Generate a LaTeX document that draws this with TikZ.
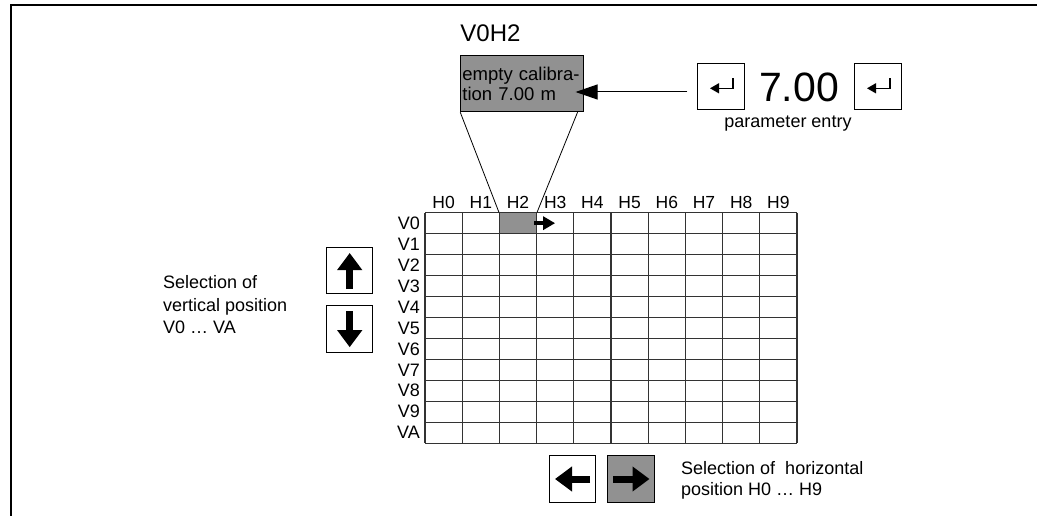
\documentclass[tikz,border=0pt]{standalone}
\usepackage{fontspec}
\setmainfont{Liberation Sans}
\usetikzlibrary{arrows.meta, positioning, calc}

\definecolor{panelgray}{gray}{0.57}
\definecolor{gridgray}{gray}{0.2}
\newcommand{\fsz}[2]{\fontsize{#1pt}{#2pt}\selectfont}
\newcommand{\cellw}{37.2}
\newcommand{\cellh}{20.95}
\newcommand{\gridx}{425}
\newcommand{\gridy}{212.7}

\begin{document}
\begin{tikzpicture}[
  x=1pt, y=-1pt,
  every node/.style={font=\fsz{18}{20.7}},
  frame/.style={line width=2pt},
  key/.style={
    draw, line width=1pt, minimum size=46.5pt, inner sep=0pt
  },
  graykey/.style={key, fill=panelgray},
  note/.style={
    draw, line width=1pt, fill=panelgray,
    minimum width=122.3pt, minimum height=56.7pt,
    text width=119pt, inner xsep=1.5pt, align=left,
    font=\fsz{18.5}{20}
  },
  cellbox/.style={
    draw=gridgray, line width=1pt, fill=panelgray,
    minimum width=\cellw pt, minimum height=\cellh pt, inner sep=0pt
  },
  gridline/.style={draw=gridgray, line width=1.3pt},
  hlabel/.style={anchor=base, inner sep=0pt, font=\fsz{17.5}{20}},
  vlabel/.style={anchor=east, inner sep=0pt, font=\fsz{18}{20}},
  thinline/.style={line width=0.8pt},
  pointer/.style={line width=1pt, -{Triangle[width=15pt,length=22pt]}},
  entersym/.style={line width=1.3pt, -{Triangle[width=10pt,length=9pt]}},
  bigarrow/.style={line width=7pt, -{Triangle[width=24pt,length=17pt]}},
  cellarrow/.style={line width=3.5pt, -{Triangle[width=13pt,length=12pt]}}
]
\useasboundingbox (0,0) rectangle (1037,516);

% frame
\draw[frame] (11,516) -- (11,5) -- (1037,5);

% matrix of positions
\node[cellbox] (sel) at ({\gridx+2.5*\cellw}, {\gridy+0.5*\cellh}) {};
\foreach \i in {0,...,10}
  \draw[gridline] ({\gridx+\i*\cellw}, \gridy) -- ++(0, {11*\cellh});
\foreach \j in {0,...,11}
  \draw[gridline] (\gridx, {\gridy+\j*\cellh}) -- ++({10*\cellw}, 0);
\foreach \c in {0,...,9}
  \node[hlabel] (h\c) at ({\gridx+(\c+0.5)*\cellw}, 208) {H\c};
\foreach \r [count=\k from 0] in {0,1,2,3,4,5,6,7,8,9,A}
  \node[vlabel] (v\r) at (420, {\gridy+(\k+0.5)*\cellh}) {V\r};
\draw[cellarrow] ([xshift=-3pt]sel.east) -- ([xshift=18pt]sel.east);

% display of the selected position
\node[note] (note) at (521.9, 83.4) {empty calibra-\\tion 7.00 m};
\node[anchor=base west, inner sep=0pt, font=\fsz{24}{28}] (pos)
  at ($(note.north west)+(0,-13.5)$) {V0H2};
\draw[thinline] (note.south west) -- (sel.north west);
\draw[thinline] ([xshift=-6pt]note.south east) -- (sel.north east);

% parameter entry
\node[key] (enter1) at (721, 86.7) {};
\node[key] (enter2) at (878, 86.7) {};
\node[anchor=base, inner sep=0pt, font=\fsz{41}{45}] (val) at (799, 101.7) {7.00};
\node[anchor=base, inner sep=0pt] (entry) at (788, 128) {parameter entry};
\draw[entersym] ($(enter1.center)+(12,-8.5)$) |- ($(enter1.center)+(-11,1.6)$);
\draw[entersym] ($(enter2.center)+(12,-8.5)$) |- ($(enter2.center)+(-11,1.6)$);
\draw[pointer] ([shift={(-10,5.3)}]enter1.west) -- ([shift={(-8,8.6)}]note.east);

% vertical selection
\node[key] (keyup) at (349.7, 270.7) {};
\node[key, below=11pt of keyup] (keydown) {};
\draw[bigarrow] ($(keyup.center)+(0,18.3)$) -- ($(keyup.center)+(0,-17.7)$);
\draw[bigarrow] ($(keydown.center)+(0,-18)$) -- ($(keydown.center)+(0,18)$);
\node[anchor=west, align=left, inner sep=0pt, font=\fsz{18}{22.5}] (vsel)
  at (163, 305) {Selection of\\vertical position\\V0 … VA};

% horizontal selection
\node[key] (keyleft) at (572.5, 479) {};
\node[graykey, right=11pt of keyleft] (keyright) {};
\draw[bigarrow] ($(keyleft.center)+(17.5,0)$) -- ($(keyleft.center)+(-17.5,0)$);
\draw[bigarrow] ($(keyright.center)+(-18,0)$) -- ($(keyright.center)+(18.5,0)$);
\node[anchor=west, align=left, inner sep=0pt] (hsel)
  at (681, 480) {Selection of~ horizontal\\position H0 … H9};

\end{tikzpicture}
\end{document}
